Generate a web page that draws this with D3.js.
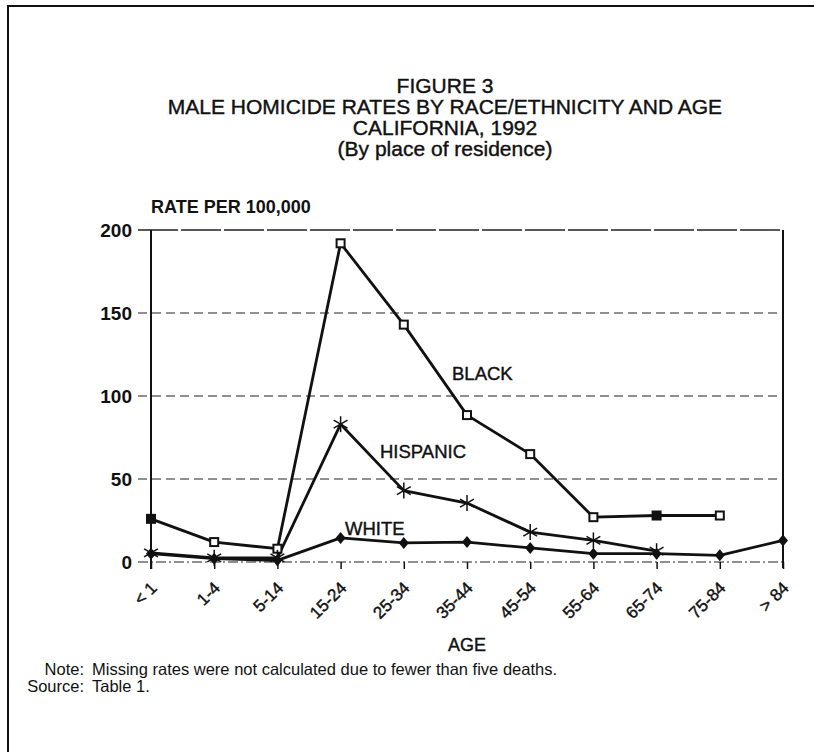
<!DOCTYPE html>
<html>
<head>
<meta charset="utf-8">
<script src="https://cdn.jsdelivr.net/npm/d3@7"></script>
<style>
  body { margin: 0; background: #fff; }
  svg { display: block; }
  text { font-family: "Liberation Sans", Arial, sans-serif; fill: #111; }
</style>
</head>
<body>
<div id="chart"></div>
<script>
const ages = ['< 1', '1-4', '5-14', '15-24', '25-34', '35-44', '45-54', '55-64', '65-74', '75-84', '> 84'];
const black = [26, 12, 8, 192, 143, 88.5, 65, 27, 28, 28, null];
const hispanic = [5.5, 2.5, 2.5, 83, 43, 35.5, 18, 13, 6.5, null, null];
const white = [5, 2, 1, 14.5, 11.5, 12, 8.5, 5, 5, 4, 13];
const yTicks = [0, 50, 100, 150, 200];
const titleLines = ['FIGURE 3', 'MALE HOMICIDE RATES BY RACE/ETHNICITY AND AGE', 'CALIFORNIA, 1992', '(By place of residence)'];

const width = 814;
const height = 755;
const svg = d3.select('#chart').append('svg').attr('width', width).attr('height', height);

// frame of the scanned page
svg.append('path')
    .attr('d', 'M814,6 H8 V752')
    .attr('fill', 'none')
    .attr('stroke', '#111')
    .attr('stroke-width', 2);

const x = d3.scalePoint().domain(ages).range([151, 783]);
const y = d3.scaleLinear().domain([0, 200]).range([562, 230]);

// title
svg.selectAll('.title').data(titleLines).enter().append('text')
    .attr('class', 'title')
    .attr('x', 445)
    .attr('y', (d, i) => 93 + i * 21)
    .attr('text-anchor', 'middle')
    .attr('font-size', '21px')
    .attr('stroke', '#111')
    .attr('stroke-width', 0.4)
    .text(d => d);

svg.append('text')
    .attr('x', 151)
    .attr('y', 213)
    .attr('font-size', '18px')
    .attr('font-weight', 'bold')
    .text('RATE PER 100,000');

// gridlines
yTicks.forEach(t => {
    let dash = '9,5';
    if (t === 0) dash = '10,3,2,3';
    if (t === 200) dash = '40,3';
    svg.append('line')
        .attr('x1', 138).attr('x2', 783)
        .attr('y1', y(t)).attr('y2', y(t))
        .attr('stroke', '#222')
        .attr('stroke-width', t === 200 ? 1.6 : 1.2)
        .attr('stroke-dasharray', dash);
});

// left axis and right border
const yAxis = d3.axisLeft(y).tickValues(yTicks).tickSize(0).tickPadding(19);
const yg = svg.append('g').attr('transform', 'translate(151,0)').call(yAxis);
yg.select('.domain').attr('stroke', '#111').attr('stroke-width', 2).attr('d', `M0,${y(200)}V${y(0) + 7}`);
yg.selectAll('.tick text')
    .attr('font-size', '19px')
    .attr('font-weight', 'bold')
    .attr('dy', '0.36em')
    .style('font-family', '"Liberation Sans", Arial, sans-serif')
    .attr('fill', '#111');

svg.append('line')
    .attr('x1', 783).attr('x2', 783)
    .attr('y1', y(200)).attr('y2', y(0) + 6)
    .attr('stroke', '#111').attr('stroke-width', 2);

// x axis ticks and labels
const xAxis = d3.axisBottom(x).tickSize(7).tickFormat('');
const xg = svg.append('g').attr('transform', `translate(0,${y(0)})`).call(xAxis);
xg.select('.domain').remove();
xg.selectAll('.tick line').attr('stroke', '#111').attr('stroke-width', 1.5);

svg.selectAll('.xlab').data(ages).enter().append('text')
    .attr('class', 'xlab')
    .attr('transform', d => `translate(${x(d) + 7},${y(0) + 27}) rotate(-45)`)
    .attr('text-anchor', 'end')
    .attr('font-size', '17px')
    .attr('stroke', '#111')
    .attr('stroke-width', 0.4)
    .text(d => d);

svg.append('text')
    .attr('x', 467)
    .attr('y', 651)
    .attr('text-anchor', 'middle')
    .attr('font-size', '18px')
    .attr('stroke', '#111')
    .attr('stroke-width', 0.4)
    .text('AGE');

// series lines
const line = d3.line()
    .defined(d => d.v !== null)
    .x(d => x(d.age))
    .y(d => y(d.v));

function toPoints(vals) {
    return ages.map((a, i) => ({ age: a, v: vals[i] }));
}

const series = [
    { name: 'black', values: toPoints(black) },
    { name: 'hispanic', values: toPoints(hispanic) },
    { name: 'white', values: toPoints(white) }
];

series.forEach(s => {
    svg.append('path')
        .datum(s.values)
        .attr('fill', 'none')
        .attr('stroke', '#111')
        .attr('stroke-width', 2.8)
        .attr('stroke-linejoin', 'round')
        .attr('d', line);
});

// markers
const pts = s => s.values.filter(d => d.v !== null);

svg.selectAll('.sq').data(pts(series[0])).enter().append('rect')
    .attr('x', d => x(d.age) - 4)
    .attr('y', d => y(d.v) - 4)
    .attr('width', 8).attr('height', 8)
    .attr('fill', (d, i) => i === 0 || i === 8 ? '#111' : '#fff')
    .attr('stroke', '#111').attr('stroke-width', 2);

const star = svg.selectAll('.star').data(pts(series[1])).enter().append('g')
    .attr('transform', d => `translate(${x(d.age)},${y(d.v)})`);
[0, 60, 120].forEach(a => {
    star.append('line')
        .attr('x1', 0).attr('y1', -8).attr('x2', 0).attr('y2', 8)
        .attr('transform', `rotate(${a})`)
        .attr('stroke', '#111').attr('stroke-width', 1.5);
});

svg.selectAll('.dia').data(pts(series[2])).enter().append('path')
    .attr('transform', d => `translate(${x(d.age)},${y(d.v)})`)
    .attr('d', 'M0,-6L5,0L0,6L-5,0Z')
    .attr('fill', '#111');

// series labels
const labels = [
    { text: 'BLACK', x: 452, y: 380 },
    { text: 'HISPANIC', x: 380, y: 458 },
    { text: 'WHITE', x: 345, y: 535 }
];
svg.selectAll('.slab').data(labels).enter().append('text')
    .attr('x', d => d.x)
    .attr('y', d => d.y)
    .attr('font-size', '18.5px')
    .attr('stroke', '#111')
    .attr('stroke-width', 0.4)
    .text(d => d.text);

// footnotes
svg.append('text').attr('x', 84).attr('y', 675).attr('text-anchor', 'end').attr('font-size', '16.5px').text('Note:');
svg.append('text').attr('x', 92).attr('y', 675).attr('font-size', '16.5px')
    .text('Missing rates were not calculated due to fewer than five deaths.');
svg.append('text').attr('x', 84).attr('y', 692).attr('text-anchor', 'end').attr('font-size', '16.5px').text('Source:');
svg.append('text').attr('x', 92).attr('y', 692).attr('font-size', '16.5px').text('Table 1.');
</script>
</body>
</html>
